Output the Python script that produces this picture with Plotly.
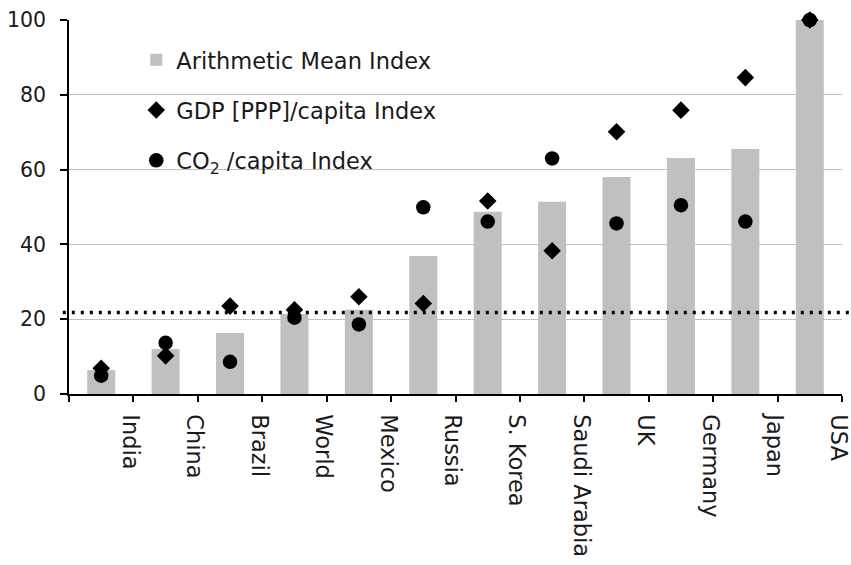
import plotly.graph_objects as go

countries = ["India", "China", "Brazil", "World", "Mexico", "Russia", "S. Korea",
             "Saudi Arabia", "UK", "Germany", "Japan", "USA"]
mean_index = [6.4, 12.0, 16.3, 21.4, 22.5, 36.9, 48.7, 51.4, 58.0, 63.1, 65.5, 100.0]
gdp_index = [6.9, 10.2, 23.5, 22.5, 26.0, 24.2, 51.6, 38.3, 70.1, 75.9, 84.6, 100.0]
co2_index = [4.9, 13.7, 8.6, 20.4, 18.6, 49.9, 46.1, 63.0, 45.6, 50.5, 46.1, 100.0]
reference_level = 21.8
y_ticks = [0, 20, 40, 60, 80, 100]

xpos = list(range(len(countries)))
label_positions = [i + 0.45 for i in xpos]
boundary_ticks = [i - 0.5 for i in range(len(countries) + 1)]

FONT = "DejaVu Sans"
TXT = "#1a1a1a"

fig = go.Figure()
fig.add_trace(go.Bar(
    x=xpos, y=mean_index, name="Arithmetic Mean Index",
    marker=dict(color="#c0c0c0", line=dict(width=0)), width=0.435,
    legendgroup="a",
))
fig.add_trace(go.Scatter(
    x=xpos, y=gdp_index, mode="markers", name="GDP [PPP]/capita Index",
    marker=dict(symbol="diamond", size=13.5, color="black"), cliponaxis=False,
    legendgroup="b",
))
fig.add_trace(go.Scatter(
    x=xpos, y=co2_index, mode="markers", name="CO<sub>2</sub> /capita Index",
    marker=dict(symbol="circle", size=14.5, color="black"), cliponaxis=False,
    legendgroup="c",
))

fig.add_shape(type="line", xref="paper", yref="y", x0=-0.008, x1=1.02,
              y0=reference_level, y1=reference_level,
              line=dict(color="black", width=3.5, dash="3px,6px"), layer="above")
fig.add_shape(type="rect", xref="paper", yref="paper", x0=0.132, x1=0.489,
              y0=0.56, y1=0.948, fillcolor="white", line=dict(width=0),
              layer="between")

fig.update_layout(
    width=851, height=565,
    margin=dict(l=69, r=9, t=20, b=171, autoexpand=False),
    paper_bgcolor="white", plot_bgcolor="white",
    font=dict(family=FONT, size=22, color=TXT),
    showlegend=True,
    legend=dict(x=0.087, y=0.95, xanchor="left", yanchor="top",
                bgcolor="rgba(0,0,0,0)", font=dict(family=FONT, size=22.5, color=TXT),
                traceorder="grouped", tracegroupgap=18),
    bargap=0.5,
)
fig.update_xaxes(
    range=[-0.5, 11.5], tickmode="array", tickvals=label_positions, ticktext=countries,
    tickangle=90, ticks="", ticklen=6,
    minor=dict(tickmode="array", tickvals=boundary_ticks, ticks="outside", ticklen=6,
               tickcolor="black", tickwidth=1.5, showgrid=False),
    showline=True, linecolor="black", linewidth=1.5, showgrid=False, zeroline=False,
    tickfont=dict(family=FONT, size=22.5, color=TXT), ticklabelstandoff=14,
    automargin=False, ticklabeloverflow="allow",
)
fig.update_yaxes(
    range=[0, 100], tickmode="array", tickvals=y_ticks,
    ticks="outside", ticklen=7, tickcolor="black", tickwidth=1.5,
    showline=True, linecolor="black", linewidth=1.5,
    showgrid=True, gridcolor="#c0c0c0", gridwidth=1, zeroline=False,
    tickfont=dict(family=FONT, size=20.5, color=TXT), ticklabelstandoff=10,
    automargin=False, ticklabeloverflow="allow",
)

fig.write_html(
    "out.html",
    config={"displayModeBar": False},
    post_script="document.body.style.margin='0';document.body.style.overflow='hidden';",
)
